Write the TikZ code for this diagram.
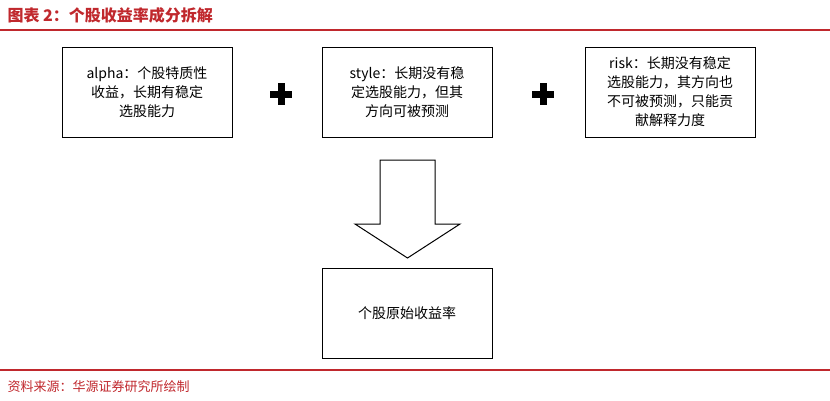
\documentclass[tikz,border=0pt]{standalone}
\usepackage{fontspec}
\newfontfamily\cjk{Noto Sans CJK SC}
\definecolor{hy}{RGB}{192,40,45}
\begin{document}
\begin{tikzpicture}[x=1pt,y=-1pt,
  box/.style={draw,line width=1pt,minimum width=170pt,minimum height=90pt,align=center,font=\cjk\fontsize{14}{19}\selectfont,text width=150pt},
  plus/.pic={\fill (-11,-3.5) rectangle (11,3.5); \fill (-3.5,-11) rectangle (3.5,11);}]
\useasboundingbox (0,0) rectangle (830,400);
\node[anchor=west,text=hy,font=\cjk\bfseries\fontsize{16}{16}\selectfont] (title) at (4,15) {图表 2：个股收益率成分拆解};
\draw[hy,line width=1.2pt] (0,30) -- (830,30);
\node[box] (a) at (147,92) {alpha：个股特质性\\收益，长期有稳定\\选股能力};
\node[box] (b) at (407,92) {style：长期没有稳\\定选股能力，但其\\方向可被预测};
\node[box] (c) at (670,92) {risk：长期没有稳定\\选股能力，其方向也\\不可被预测，只能贡\\献解释力度};
\pic at (281,94) {plus};
\pic at (543,94) {plus};
\node[box] (d) at (407,313) {个股原始收益率};
\draw[line width=1pt,fill=white] (380,160) -- (435,160) -- (435,224) -- (460,224) -- (407.5,258) -- (355,224) -- (380,224) -- cycle;
\draw[hy,line width=1.2pt] (0,370) -- (830,370);
\node[anchor=west,text=hy,font=\cjk\fontsize{13}{13}\selectfont] (src) at (4,387) {资料来源：华源证券研究所绘制};
\end{tikzpicture}
\end{document}
